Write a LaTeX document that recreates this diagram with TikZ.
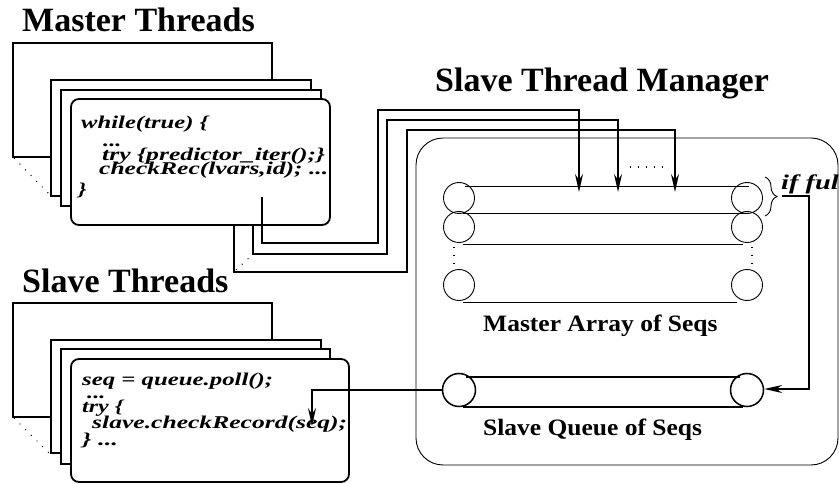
\documentclass[tikz,border=0pt]{standalone}
\usepackage{fontspec}
\setmainfont{Liberation Serif}
\newfontfamily\codefont[FakeStretch=1.35]{Liberation Serif}
\newfontfamily\labfont[FakeStretch=1.085]{Liberation Serif}
\usetikzlibrary{arrows.meta,decorations.pathreplacing}
\newcommand{\fitw}[2]{\resizebox{#1}{\height}{#2}}
\begin{document}
\begin{tikzpicture}[x=1pt,y=-1pt,
  thbox/.style={draw, line width=1.8pt, fill=white},
  conn/.style={line width=1.6pt},
  tip/.style={-{Stealth[length=18pt,width=8pt]}},
  title/.style={font=\fontsize{34}{34}\selectfont\bfseries, anchor=base west, inner sep=0},
  code/.style={font=\codefont\fontsize{18}{18}\selectfont\bfseries\itshape, anchor=base west, inner sep=0},
  lab/.style={font=\labfont\fontsize{23.5}{23.5}\selectfont\bfseries, anchor=base west, inner sep=0},
  thinl/.style={line width=0.9pt},
  dotsl/.style={line width=1.3pt, dash pattern=on 1.3pt off 6.7pt},
  sparse/.style={line width=1pt, dash pattern=on 1pt off 7pt},
]
\useasboundingbox (0,0) rectangle (839,484);

% ---------- titles ----------
\node[title] (tmaster) at (22,32) {Master Threads};
\node[title] (tslave) at (22,292) {Slave Threads};
\node[title] (tmgr) at (435,92) {Slave Thread Manager};

% ---------- master thread stack ----------
\draw[thbox] (13,43) rectangle (272,157);
\draw[sparse] (14,158) -- (51,196);
\draw[thbox] (51,80) rectangle (311,196);
\draw[thbox] (61,90) rectangle (321,206);
\draw[thbox, rounded corners=8pt] (71,99) rectangle (330,225);
\node[code] (mc1) at (81,129) {\fitw{127pt}{while(true) \{}};
\node[code] (mc2) at (103,147) {...};
\node[code] (mc3) at (102,161) {\fitw{223pt}{try \{predictor\_iter();\}}};
\node[code] (mc4) at (99,175) {\fitw{229pt}{checkRec(lvars,id); ...}};
\node[code] (mc5) at (78,196) {\}};

% ---------- slave thread stack ----------
\draw[thbox] (13,303) rectangle (272,417);
\draw[sparse] (14,418) -- (51,455);
\draw[thbox] (51,340) rectangle (321,453);
\draw[thbox] (61,349) rectangle (330,464);
\draw[thbox, rounded corners=8pt] (71,359) rectangle (349,482);
\node[code] (sc1) at (82,385) {\fitw{191pt}{seq = queue.poll();}};
\node[code] (sc2) at (87,398) {...};
\node[code] (sc3) at (82,412) {\fitw{41pt}{try \{}};
\node[code] (sc4) at (92,428) {\fitw{255pt}{slave.checkRecord(seq);}};
\node[code] (sc5) at (82,445) {\fitw{36pt}{\} ...}};

% ---------- manager ----------
\draw[thinl, rounded corners=27pt] (416,138) rectangle (838,465);

% master array rows
\foreach \yc in {198,227,285} {
  \draw[thinl] (459,\yc) circle[radius=15.5pt];
  \draw[thinl] (747,\yc) circle[radius=15.5pt];
}
\draw[thinl] (465,186) -- (749,186);
\draw[thinl] (463,213) -- (747,213);
\draw[thinl] (463,244) -- (743,244);
\draw[thinl] (463,302) -- (737,302);
\draw[dotsl] (454,247) -- (454,266);
\draw[dotsl] (752,247) -- (752,266);
\node[lab] (larr) at (483,331) {Master Array of Seqs};

% slave queue
\node[circle, draw, line width=1.5pt, minimum size=33pt, inner sep=0] (ql) at (459,390) {};
\node[circle, draw, line width=1.5pt, minimum size=33pt, inner sep=0] (qr) at (747,390) {};
\draw[line width=1.3pt] (466,377) -- (740,377);
\draw[line width=1.3pt] (463,407) -- (743,407);
\node[lab] (lque) at (483,435) {Slave Queue of Seqs};

% if full
\draw[thinl, decorate, decoration={brace, amplitude=12pt}] (765,177) -- (765,216);
\node[code, font=\codefont\fontsize{21}{21}\selectfont\bfseries\itshape] (iff) at (781,190) {if full};
\coordinate (br) at (782,196);
\coordinate (bc1) at (809,196);
\coordinate (bc2) at (809,389);
\draw[conn, tip] (br) -- (bc1) -- (bc2) -- (qr.east |- bc2);

% ---------- connectors master -> array ----------
\coordinate (a1) at (579,192);
\coordinate (a2) at (618,192);
\coordinate (a3) at (675,192);
\coordinate (s1) at (262,197);
\coordinate (s2) at (253,225);
\coordinate (s3) at (234,225);
\draw[conn, tip] (s1) -- (262,243) -- (378,243) -- (378,110) -- (579,110) -- (a1);
\draw[conn, tip] (s2) -- (253,254) -- (387,254) -- (387,120) -- (618,120) -- (a2);
\draw[conn, tip] (s3) -- (234,272) -- (407,272) -- (407,130) -- (675,130) -- (a3);
\draw[sparse] (236,270) -- (252,255);
\draw[dotsl] (630,167) -- (666,167);

% ---------- queue -> slave ----------
\coordinate (sq) at (312,426);
\draw[line width=1.4pt, tip] (ql.west) -- (ql.west -| sq) -- (sq);
\end{tikzpicture}
\end{document}
